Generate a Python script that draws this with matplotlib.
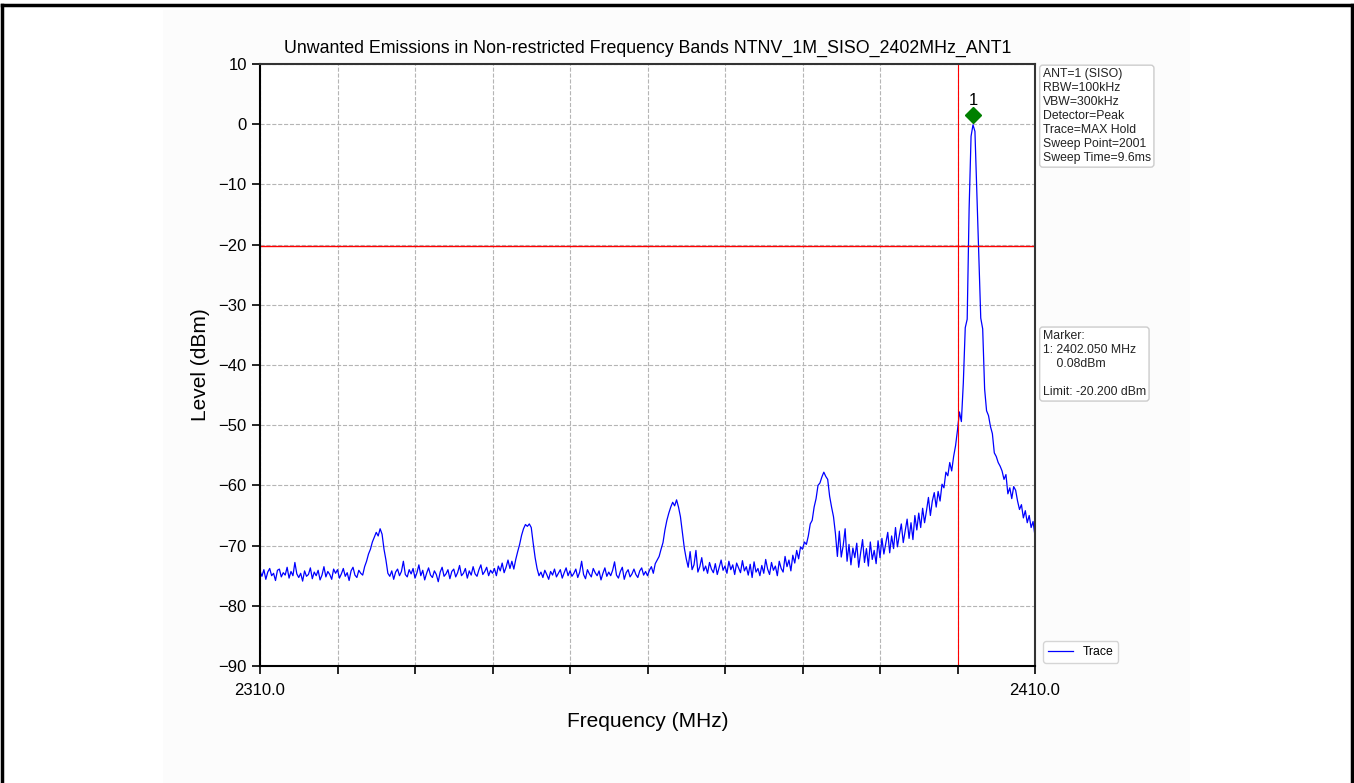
#!/usr/bin/env python3
"""
Unwanted emissions plot: spectrum trace, limit line, marker and info boxes
"""
import numpy as np
import matplotlib
matplotlib.use('Agg')
import matplotlib.pyplot as plt
from matplotlib.lines import Line2D
from matplotlib.patches import Rectangle

plt.rcParams['font.family'] = ['Liberation Sans', 'DejaVu Sans']

# 扫频起止和步进 (MHz)
f_start = 2310.0
f_stop = 2410.0
f_step = 0.25

# 读图得到的电平值 (dBm), 每行 5 MHz
level = [
    -74.2, -75.1, -74.0, -75.6, -74.4, -73.8, -75.0, -74.6, -75.8, -74.1, -73.9, -75.2, -74.5, -74.9, -73.6, -75.4, -74.3, -75.0, -72.8, -74.7,
    -75.3, -74.6, -75.9, -74.2, -75.1, -74.8, -73.7, -75.5, -74.4, -75.0, -74.1, -75.7, -74.9, -73.5, -75.2, -74.3, -74.8, -75.6, -73.9, -74.6,
    -74.0, -75.4, -74.7, -73.8, -75.1, -74.5, -75.8, -74.2, -73.6, -74.9, -75.3, -74.1, -74.6, -74.9, -73.5, -72.6, -71.4, -70.6, -69.4, -68.6,
    -67.8, -68.4, -67.2, -68.1, -70.6, -72.4, -74.6, -75.1, -74.2, -75.6, -74.4, -73.9, -75.0, -74.3, -72.6, -74.8, -75.2, -74.0, -74.7, -73.8,
    -75.4, -74.5, -73.2, -75.0, -74.1, -75.7, -74.6, -73.7, -74.9, -75.3, -74.2, -74.8, -76.0, -74.4, -73.6, -75.1, -74.7, -74.0, -75.5, -74.3,
    -73.9, -75.2, -74.5, -73.3, -75.0, -74.6, -73.8, -75.4, -74.2, -74.9, -73.5, -74.7, -75.1, -74.0, -73.2, -74.8, -74.3, -73.6, -75.0, -74.1,
    -74.6, -73.8, -75.0, -73.4, -74.2, -72.9, -74.5, -73.6, -72.4, -73.8, -72.6, -73.9, -72.3, -71.0, -69.8, -68.3, -67.2, -66.5, -66.8, -66.4,
    -67.0, -69.6, -72.0, -73.8, -75.0, -74.4, -75.3, -74.1, -74.8, -75.6, -74.3, -74.9, -73.9, -75.2, -74.6, -74.0, -75.4, -74.5, -73.7, -75.0,
    -74.2, -75.1, -74.6, -73.9, -75.3, -74.4, -72.6, -74.8, -75.5, -74.0, -74.7, -75.2, -73.8, -74.5, -75.0, -74.2, -75.7, -74.6, -73.7, -75.1,
    -74.4, -75.0, -74.1, -72.7, -74.9, -75.4, -74.3, -73.6, -75.6, -74.5, -74.0, -75.2, -74.7, -73.9, -74.8, -75.3, -74.2, -73.7, -74.9, -74.3,
    -75.0, -74.1, -73.5, -74.6, -73.0, -72.4, -71.8, -70.6, -69.5, -67.4, -65.8, -64.6, -63.6, -62.8, -63.4, -62.4, -63.6, -65.2, -67.8, -70.4,
    -72.2, -73.6, -71.0, -74.0, -73.2, -70.8, -74.4, -73.5, -72.0, -74.2, -73.4, -74.6, -72.8, -73.9, -74.5, -73.0, -74.8, -73.6, -72.4, -74.1,
    -73.4, -74.6, -72.6, -74.0, -73.2, -74.8, -72.9, -73.7, -74.5, -72.5, -74.2, -73.5, -74.9, -73.1, -75.3, -72.7, -74.4, -73.8, -75.0, -73.3,
    -74.6, -72.3, -73.9, -74.8, -72.8, -74.1, -73.4, -75.0, -72.6, -73.8, -74.4, -71.8, -73.5, -72.4, -74.2, -71.6, -72.9, -70.8, -72.2, -70.2,
    -70.6, -69.4, -69.8, -68.4, -66.4, -65.8, -63.6, -62.2, -60.0, -59.6, -58.6, -57.8, -58.5, -59.0, -61.8, -63.6, -65.2, -68.0, -71.8, -67.6,
    -71.9, -70.0, -67.2, -72.6, -69.8, -73.2, -70.4, -72.0, -69.6, -73.6, -71.2, -69.0, -72.8, -70.5, -73.4, -69.4, -72.3, -70.8, -73.0, -69.2,
    -72.0, -68.8, -71.4, -69.6, -67.8, -71.2, -68.4, -70.5, -67.0, -70.2, -68.2, -66.4, -69.5, -67.5, -65.6, -68.8, -66.2, -69.0, -65.0, -67.4,
    -64.6, -67.0, -63.8, -66.2, -64.2, -62.0, -65.0, -62.6, -61.2, -63.6, -61.0, -62.6, -59.8, -60.4, -57.8, -58.4, -56.2, -57.6, -55.2, -53.4,
    -50.8, -47.8, -49.4, -43.0, -33.8, -32.4, -14.0, -2.0, -0.1, -1.2, -11.4, -21.5, -32.2, -34.0, -44.0, -47.6, -48.4, -50.2, -51.4, -54.6,
    -55.2, -56.2, -56.8, -57.6, -59.0, -58.2, -61.4, -60.4, -62.2, -60.2, -60.8, -62.6, -64.0, -63.2, -65.4, -64.2, -66.2, -65.0, -67.0, -66.0,
    -68.4,
]

# 限值线与标记
limit_dbm = -20.2
vline_mhz = 2400.0
marker_freq = 2402.05
marker_level = 0.08

info_text = "ANT=1 (SISO)\nRBW=100kHz\nVBW=300kHz\nDetector=Peak\nTrace=MAX Hold\nSweep Point=2001\nSweep Time=9.6ms"
marker_text = f"Marker:\n1: {marker_freq:.3f} MHz\n    {marker_level:.2f}dBm\n\nLimit: {limit_dbm:.3f} dBm"
title = "Unwanted Emissions in Non-restricted Frequency Bands NTNV_1M_SISO_2402MHz_ANT1"

freq = f_start + f_step * np.arange(len(level))
level = np.array(level)

fig = plt.figure(figsize=(13.54, 7.83), dpi=100)
fig.patch.set_facecolor('white')

# 背景浅灰区域与外框
fig.add_artist(Rectangle((163 / 1354, 0), (1190 - 163) / 1354, 1 - 10 / 783,
                         transform=fig.transFigure, facecolor='#fcfcfc',
                         edgecolor='none', zorder=-10))
for xs, ys in [([0.0015, 0.0015], [0, 0.994]), ([0.0015, 0.9985], [0.994, 0.994]),
               ([0.9985, 0.9985], [0, 0.994])]:
    fig.add_artist(Line2D(xs, ys, transform=fig.transFigure, color='black', lw=2.5))

ax = fig.add_axes([260 / 1354, 117 / 783, 775 / 1354, 602 / 783])
ax.set_facecolor('white')

ax.plot(freq, level, color='blue', lw=0.9, label='Trace')
ax.axhline(limit_dbm, color='red', lw=1.0)
ax.axvline(vline_mhz, color='red', lw=0.8)

# 峰值标记
ax.plot(marker_freq, marker_level + 1.4, marker='D', color='green', markersize=8, ls='none')
ax.text(marker_freq, marker_level + 2.6, '1', ha='center', va='bottom', fontsize=12)

ax.set_xlim(f_start, f_stop)
ax.set_ylim(-90, 10)
ax.set_xticks([f_start, f_stop])
ax.set_xticklabels([f'{f_start:.1f}', f'{f_stop:.1f}'])
ax.set_xticks(np.arange(2320, 2410, 10), minor=True)
ax.set_yticks(np.arange(-90, 11, 10))
ax.tick_params(axis='both', which='both', direction='out', length=6, width=1.2, labelsize=12)
ax.tick_params(axis='x', pad=6)
ax.grid(True, which='both', axis='x', ls='--', color='#b5b5b5', lw=0.8)
ax.grid(True, which='major', axis='y', ls='--', color='#b5b5b5', lw=0.8)
for side in ['left', 'bottom']:
    ax.spines[side].set_linewidth(1.5)
    ax.spines[side].set_color('black')
for side in ['top', 'right']:
    ax.spines[side].set_linewidth(1.5)
    ax.spines[side].set_color('#333333')

ax.set_title(title, fontsize=12.8, pad=8)
ax.set_xlabel('Frequency (MHz)', fontsize=15, labelpad=10)
ax.set_ylabel('Level (dBm)', fontsize=15, labelpad=6)

box = dict(boxstyle='round,pad=0.25', facecolor='white', edgecolor='#cccccc', lw=1.0)
ax.text(1.01, 0.993, info_text, transform=ax.transAxes, ha='left', va='top',
        fontsize=8.8, color='#222222', bbox=box, linespacing=1.22)
ax.text(1.01, 0.558, marker_text, transform=ax.transAxes, ha='left', va='top',
        fontsize=8.8, color='#222222', bbox=box, linespacing=1.22)

ax.legend(loc='lower left', bbox_to_anchor=(1.003, -0.005), fontsize=8.8,
          frameon=True, edgecolor='#cccccc', handlelength=2.0)

fig.savefig('out.png', dpi=100)
